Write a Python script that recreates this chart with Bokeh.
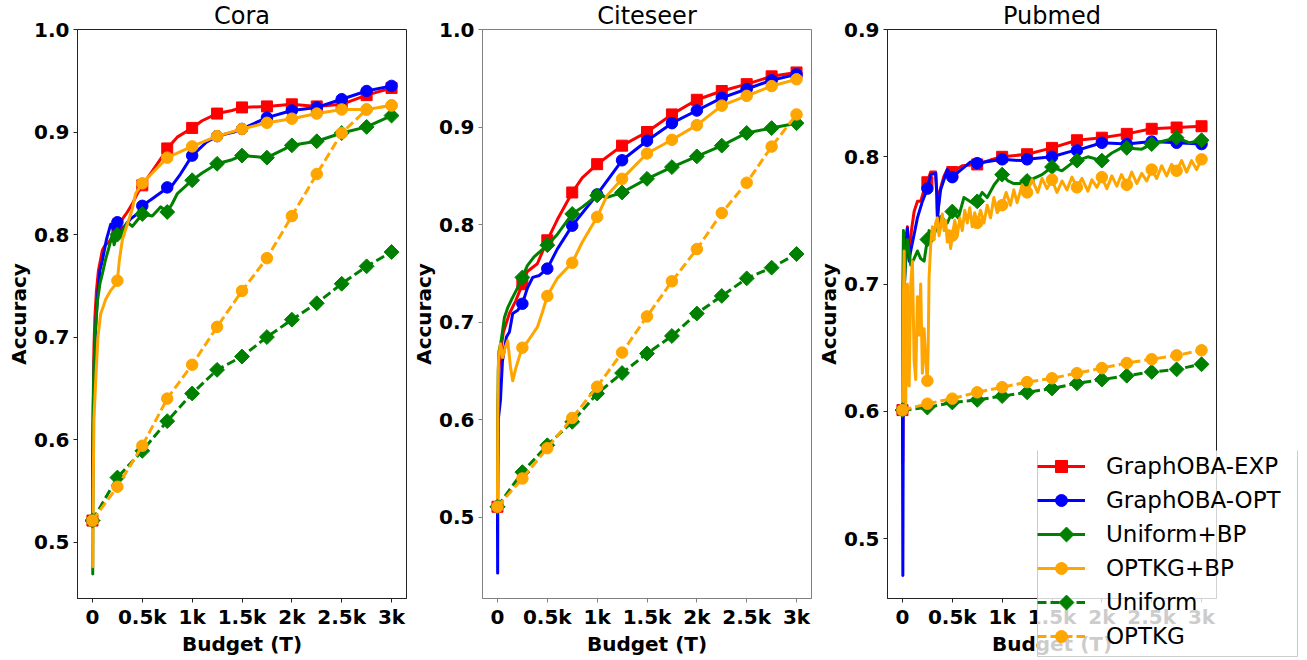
import math
from bokeh.plotting import figure
from bokeh.layouts import row, column
from bokeh.models import Range1d, FixedTicker, PrintfTickFormatter, Legend, LegendItem
from bokeh.embed import file_html
from bokeh.resources import INLINE

# ---------------- data ----------------
budget_ticks = [0, 500, 1000, 1500, 2000, 2500, 3000]
budget_tick_labels = ["0", "0.5k", "1k", "1.5k", "2k", "2.5k", "3k"]
dashed_budget = [0, 250, 500, 750, 1000, 1250, 1500, 1750, 2000, 2250, 2500, 2750, 3000]

series_names = ["GraphOBA-EXP", "GraphOBA-OPT", "Uniform+BP", "OPTKG+BP", "Uniform", "OPTKG"]
panel_titles = ["Cora", "Citeseer", "Pubmed"]

# Cora  (budget, accuracy)
cora_exp = [(0, .521), (3, .58), (8, .64), (15, .69), (25, .72), (40, .745), (60, .765), (80, .775),
            (100, .785), (130, .79), (160, .792), (200, .798), (250, .803), (300, .815), (350, .822),
            (400, .83), (450, .84), (500, .848), (600, .862), (700, .876), (750, .884), (850, .895),
            (1000, .904), (1100, .911), (1250, .918), (1400, .921), (1500, .924), (1750, .925),
            (2000, .927), (2250, .925), (2500, .927), (2750, .936), (3000, .943)]
cora_opt = [(0, .521), (2, .57), (5, .60), (10, .64), (20, .68), (35, .715), (50, .739), (75, .765),
            (100, .775), (140, .795), (183, .810), (210, .805), (250, .812), (283, .80), (320, .808),
            (380, .815), (448, .820), (500, .828), (600, .835), (715, .843), (750, .846), (800, .848),
            (883, .859), (1000, .877), (1143, .890), (1250, .896), (1420, .900), (1500, .903),
            (1750, .914), (2000, .921), (2250, .924), (2500, .932), (2750, .940), (3000, .945)]
cora_ubp = [(0, .521), (3, .469), (6, .60), (12, .66), (25, .70), (50, .735), (75, .752), (100, .762),
            (130, .775), (167, .788), (200, .80), (217, .79), (250, .80), (283, .80), (350, .812),
            (400, .808), (450, .814), (500, .82), (600, .818), (685, .827), (750, .822), (800, .83),
            (852, .84), (1000, .853), (1100, .86), (1250, .869), (1400, .873), (1500, .877),
            (1750, .875), (2000, .887), (2250, .891), (2500, .899), (2750, .905), (3000, .916)]
cora_okbp = [(0, .521), (3, .476), (8, .56), (15, .62), (33, .658), (55, .70), (83, .723), (110, .73),
             (133, .737), (180, .745), (220, .75), (250, .755), (270, .775), (300, .795), (350, .81),
             (400, .825), (433, .84), (500, .85), (600, .86), (750, .875), (1000, .886), (1250, .896),
             (1500, .903), (1750, .909), (2000, .913), (2250, .918), (2500, .922), (2750, .922),
             (3000, .926)]
cora_uniform = [.521, .563, .589, .618, .645, .668, .681, .700, .717, .733, .752, .769, .783]
cora_optkg = [.521, .554, .594, .640, .673, .710, .745, .777, .818, .859, .899, .922, .926]

# Citeseer
cite_exp = [(0, .511), (3, .56), (8, .62), (15, .65), (30, .67), (60, .69), (120, .709), (183, .722),
            (250, .739), (300, .752), (400, .76), (500, .784), (600, .805), (750, .833), (850, .848),
            (1000, .862), (1250, .881), (1500, .895), (1750, .913), (2000, .928), (2250, .937),
            (2500, .944), (2750, .952), (3000, .956)]
cite_opt = [(0, .511), (2, .443), (4, .55), (8, .60), (30, .62), (50, .66), (90, .685), (120, .69),
            (153, .709), (200, .712), (250, .719), (300, .735), (354, .746), (420, .748), (500, .755),
            (600, .775), (750, .799), (1000, .831), (1250, .866), (1500, .886), (1750, .904),
            (2000, .917), (2250, .930), (2500, .939), (2750, .948), (3000, .954)]
cite_ubp = [(0, .511), (3, .60), (8, .65), (15, .67), (37, .681), (70, .705), (103, .715), (150, .725),
            (200, .735), (250, .746), (300, .758), (367, .767), (500, .779), (600, .79), (750, .811),
            (850, .818), (1000, .830), (1100, .828), (1250, .833), (1500, .847), (1750, .859),
            (2000, .870), (2250, .881), (2500, .894), (2750, .899), (3000, .904)]
cite_okbp = [(0, .511), (3, .60), (10, .66), (30, .678), (53, .664), (80, .675), (103, .681), (130, .655),
             (153, .640), (187, .654), (220, .665), (250, .674), (300, .68), (354, .688), (400, .695),
             (450, .71), (500, .727), (600, .745), (750, .761), (850, .782), (1000, .808), (1100, .83),
             (1250, .847), (1500, .873), (1750, .887), (2000, .902), (2250, .922), (2500, .932),
             (2750, .942), (3000, .949)]
cite_uniform = [.511, .5465, .574, .598, .627, .648, .668, .686, .709, .727, .745, .756, .770]
cite_optkg = [.511, .540, .571, .602, .634, .669, .706, .742, .775, .812, .843, .880, .913]

# Pubmed
pub_exp = [(0, .601), (3, .56), (6, .62), (10, .70), (20, .74), (35, .735), (50, .745), (67, .72),
           (90, .742), (117, .757), (150, .765), (183, .765), (230, .778), (250, .78), (283, .788),
           (333, .788), (345, .770), (352, .750), (370, .772), (417, .785), (450, .79), (500, .788),
           (600, .793), (750, .794), (900, .798), (1000, .800), (1250, .802), (1500, .807),
           (1750, .813), (2000, .815), (2250, .818), (2500, .822), (2750, .823), (3000, .824)]
pub_opt = [(0, .601), (4, .471), (8, .60), (12, .643), (20, .70), (35, .73), (50, .744), (60, .725),
           (67, .718), (80, .725), (117, .739), (150, .752), (200, .765), (250, .775), (283, .786),
           (333, .787), (345, .77), (350, .753), (383, .774), (450, .79), (500, .784), (683, .796),
           (750, .795), (1000, .798), (1190, .797), (1250, .798), (1500, .80), (1725, .805),
           (1750, .805), (2000, .811), (2250, .810), (2500, .812), (2750, .811), (3000, .810)]
pub_ubp = [(0, .601), (4, .70), (10, .742), (20, .70), (33, .721), (50, .735), (83, .715), (117, .72),
           (150, .726), (183, .72), (217, .718), (250, .735), (267, .742), (317, .739), (383, .753),
           (450, .748), (500, .757), (560, .752), (617, .768), (717, .763), (750, .765), (800, .772),
           (850, .768), (920, .778), (1000, .786), (1060, .781), (1117, .779), (1190, .779),
           (1250, .781), (1317, .783), (1400, .786), (1500, .792), (1600, .789), (1700, .795),
           (1750, .797), (1860, .80), (2000, .797), (2100, .803), (2197, .807), (2250, .807),
           (2400, .806), (2500, .810), (2600, .812), (2750, .815), (2880, .811), (3000, .813)]
pub_okbp = [(0, .601), (8, .68), (17, .726), (25, .62), (33, .605), (42, .69), (50, .70), (58, .63),
            (67, .62), (83, .70), (100, .718), (117, .64), (133, .625), (150, .69), (167, .66),
            (183, .70), (200, .63), (217, .665), (233, .64), (250, .624), (258, .65), (267, .705),
            (283, .73), (300, .745), (317, .735), (333, .748), (350, .752), (367, .738), (383, .745),
            (400, .755), (417, .742), (433, .75), (450, .733), (467, .742), (483, .728), (500, .738),
            (525, .75), (550, .738), (575, .752), (600, .742), (625, .758), (650, .748), (675, .76),
            (700, .745), (725, .756), (750, .748), (783, .758), (817, .748), (850, .762), (883, .752),
            (917, .768), (950, .756), (1000, .762), (1040, .772), (1083, .762), (1117, .774),
            (1150, .764), (1200, .778), (1250, .772), (1300, .782), (1357, .772), (1400, .783),
            (1450, .775), (1500, .782), (1550, .772), (1600, .781), (1650, .774), (1700, .784),
            (1750, .776), (1800, .783), (1860, .773), (1900, .782), (1950, .776), (2000, .784),
            (2050, .775), (2100, .785), (2150, .777), (2197, .786), (2250, .778), (2300, .788),
            (2350, .779), (2400, .787), (2450, .781), (2500, .79), (2550, .783), (2600, .793),
            (2650, .785), (2700, .794), (2750, .789), (2800, .797), (2850, .788), (2900, .797),
            (2950, .79), (3000, .798)]
pub_uniform = [.601, .603, .607, .609, .612, .615, .618, .622, .625, .628, .631, .633, .637]
pub_optkg = [.601, .606, .610, .615, .619, .623, .626, .630, .634, .638, .641, .644, .648]

cora_yticks = [0.5, 0.6, 0.7, 0.8, 0.9, 1.0]
cite_yticks = [0.5, 0.6, 0.7, 0.8, 0.9, 1.0]
pub_yticks = [0.5, 0.6, 0.7, 0.8, 0.9]

# ---------------- styles ----------------
DIAMOND = math.pi / 4
STYLE = {
    "GraphOBA-EXP": dict(color="#ff0000", marker="square", size=11, angle=0.0, dash="solid"),
    "GraphOBA-OPT": dict(color="#0000ff", marker="circle", size=11.5, angle=0.0, dash="solid"),
    "Uniform+BP": dict(color="#008000", marker="square", size=10.5, angle=DIAMOND, dash="solid"),
    "OPTKG+BP": dict(color="#ffa500", marker="circle", size=11.5, angle=0.0, dash="solid"),
    "Uniform": dict(color="#008000", marker="square", size=10.5, angle=DIAMOND, dash="9 4"),
    "OPTKG": dict(color="#ffa500", marker="circle", size=11.5, angle=0.0, dash="9 4"),
}
FONT = "DejaVu Sans"


def make_panel(title, solid, dashed, yr, yticks, lb, rb, axis_color):
    p = figure(frame_width=329, frame_height=569, x_range=Range1d(-150, 3150), y_range=Range1d(*yr),
               output_backend="svg", toolbar_location=None, min_border_left=lb, min_border_right=rb,
               min_border_top=29, min_border_bottom=56)
    p.grid.visible = False
    p.outline_line_color = axis_color
    p.outline_line_width = 1
    p.background_fill_color = "white"
    p.border_fill_color = "white"

    p.title.text = title
    p.title.align = "center"
    p.title.text_font = FONT
    p.title.text_font_size = "24px"
    p.title.text_font_style = "normal"
    p.title.text_color = "black"
    p.title.standoff = -1

    for ax in (p.xaxis[0], p.yaxis[0]):
        ax.axis_line_color = axis_color
        ax.major_tick_line_color = axis_color
        ax.minor_tick_line_color = None
        ax.major_tick_out = 4
        ax.major_tick_in = 0
        ax.major_label_text_font = FONT
        ax.major_label_text_font_size = "20px"
        ax.major_label_text_font_style = "bold"
        ax.major_label_text_color = "black"
        ax.axis_label_text_font = FONT
        ax.axis_label_text_font_size = "20px"
        ax.axis_label_text_font_style = "bold"
        ax.axis_label_text_color = "black"
    p.xaxis.ticker = FixedTicker(ticks=budget_ticks)
    p.xaxis.major_label_overrides = dict(zip(budget_ticks, budget_tick_labels))
    p.xaxis.axis_label = "Budget (T)"
    p.xaxis.major_label_standoff = 2
    p.xaxis.axis_label_standoff = 0
    p.yaxis.ticker = FixedTicker(ticks=yticks)
    p.yaxis.formatter = PrintfTickFormatter(format="%.1f")
    p.yaxis.axis_label = "Accuracy"
    p.yaxis.major_label_standoff = 4
    p.yaxis.axis_label_standoff = 0

    for name in series_names:
        st = STYLE[name]
        if name in solid:
            pts = solid[name]
            xs = [a for a, b in pts]
            ys = [b for a, b in pts]
            mx = [a for a, b in pts if a % 250 == 0]
            my = [b for a, b in pts if a % 250 == 0]
        else:
            xs = dashed_budget
            ys = dashed[name]
            mx, my = xs, ys
        p.line(xs, ys, line_color=st["color"], line_width=3, line_dash=st["dash"], line_join="round")
        p.scatter(mx, my, marker=st["marker"], size=st["size"], angle=st["angle"],
                  fill_color=st["color"], line_color=st["color"], line_width=1)
    return p


p1 = make_panel(panel_titles[0],
                {"GraphOBA-EXP": cora_exp, "GraphOBA-OPT": cora_opt, "Uniform+BP": cora_ubp, "OPTKG+BP": cora_okbp},
                {"Uniform": cora_uniform, "OPTKG": cora_optkg},
                (0.445, 1.0), cora_yticks, 77, 2, "#222222")
p2 = make_panel(panel_titles[1],
                {"GraphOBA-EXP": cite_exp, "GraphOBA-OPT": cite_opt, "Uniform+BP": cite_ubp, "OPTKG+BP": cite_okbp},
                {"Uniform": cite_uniform, "OPTKG": cite_optkg},
                (0.417, 1.0), cite_yticks, 74, 2, "#808080")
p3 = make_panel(panel_titles[2],
                {"GraphOBA-EXP": pub_exp, "GraphOBA-OPT": pub_opt, "Uniform+BP": pub_ubp, "OPTKG+BP": pub_okbp},
                {"Uniform": pub_uniform, "OPTKG": pub_optkg},
                (0.453, 0.9), pub_yticks, 74, 10, "#222222")

# ---------------- legend ----------------
# a transparent overlay canvas, so the box can overlap the Pubmed axis like the original
LEG_W, LEG_H = 262, 212
LEG_MARGIN, LEG_PAD, GLYPH_W, GLYPH_H, LEG_SPACING, LABEL_W, LABEL_GAP = 1, 5, 48, 30, 4, 181, 21
LEG_Y_SHIFT = -5  # aligns the glyph-drawn box/diamonds with the legend's own row layout
pleg = figure(width=LEG_W, height=LEG_H, min_border=0, x_axis_type=None, y_axis_type=None,
              x_range=Range1d(0, LEG_W), y_range=Range1d(LEG_H, 0), toolbar_location=None,
              output_backend="svg", outline_line_color=None)
pleg.background_fill_alpha = 0
pleg.border_fill_alpha = 0
pleg.grid.visible = False

# legend box (drawn as a glyph so the rotated-square swatches can sit above it)
box_w = 2 * LEG_PAD + GLYPH_W + LABEL_GAP + LABEL_W
box_h = 2 * LEG_PAD + len(series_names) * GLYPH_H + (len(series_names) - 1) * LEG_SPACING
box_top = LEG_MARGIN + LEG_Y_SHIFT
pleg.quad(left=[LEG_MARGIN], right=[LEG_MARGIN + box_w], top=[box_top], bottom=[box_top + box_h],
          fill_color="white", fill_alpha=0.8, line_color="#cccccc", line_width=1)

items = []
for k, name in enumerate(series_names):
    st = STYLE[name]
    # a single off-canvas sample: only the legend swatch shows
    lr = pleg.line([-5, -4], [-50, -50], line_color=st["color"], line_width=3, line_dash=st["dash"])
    renderers = [lr]
    if st["angle"] == 0.0:
        renderers.append(pleg.scatter([-5], [-50], marker=st["marker"], size=st["size"],
                                      fill_color=st["color"], line_color=st["color"], line_width=1))
    else:
        # legend swatches ignore marker angles: put the rotated square on the swatch centre
        cx = LEG_MARGIN + LEG_PAD + GLYPH_W / 2
        cy = box_top + LEG_PAD + GLYPH_H / 2 + k * (GLYPH_H + LEG_SPACING)
        pleg.scatter([cx], [cy], marker=st["marker"], size=st["size"], angle=st["angle"],
                     fill_color=st["color"], line_color=st["color"], line_width=1)
    items.append(LegendItem(label=name, renderers=renderers))
leg = Legend(items=items, location="top_left", orientation="vertical",
             label_text_font=FONT, label_text_font_size="23px", label_text_color="black",
             glyph_width=GLYPH_W, glyph_height=GLYPH_H, label_height=GLYPH_H, label_width=LABEL_W,
             label_standoff=LABEL_GAP, spacing=LEG_SPACING, padding=LEG_PAD, margin=LEG_MARGIN,
             border_line_color=None, background_fill_alpha=0.0)
pleg.add_layout(leg)
pleg.margin = (-208, 0, 0, 1036)

layout = column(row(p1, p2, p3), pleg)
open("out.html", "w").write(file_html(layout, INLINE))
